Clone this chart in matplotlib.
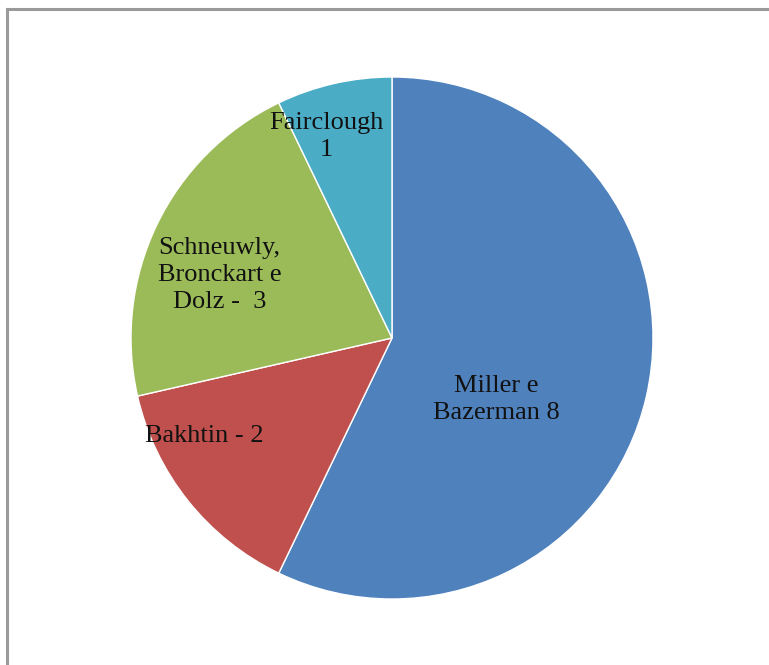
import matplotlib
matplotlib.use('Agg')
import matplotlib.pyplot as plt
from matplotlib.lines import Line2D

# slices, clockwise from 12 o'clock
authors = ['Miller e\nBazerman 8', 'Bakhtin - 2', 'Schneuwly,\nBronckart e\nDolz -  3', 'Fairclough\n1']
counts = [8, 2, 3, 1]
colors = ['#4F81BD', '#C0504D', '#9BBB59', '#4BACC6']
label_xy = [(0.40, -0.235), (-0.72, -0.375), (-0.66, 0.24), (-0.25, 0.772)]

W, H = 769, 665
fig = plt.figure(figsize=(W / 100, H / 100), dpi=100)
fig.patch.set_facecolor('white')

# chart frame: only the top and left edges are visible
fx, fy = 6.5 / W, 1 - 8.5 / H
fig.lines.append(Line2D([fx, 1], [fy, fy], transform=fig.transFigure, color='#9a9a9a', linewidth=2.2))
fig.lines.append(Line2D([fx, fx], [0, fy], transform=fig.transFigure, color='#9a9a9a', linewidth=2.2))

cx, cy, r = 392, 338, 261
ax = fig.add_axes([(cx - r) / W, (H - cy - r) / H, 2 * r / W, 2 * r / H])
wedges, _ = ax.pie(counts, colors=colors, startangle=90, counterclock=False,
                   wedgeprops=dict(edgecolor='white', linewidth=1))
for txt, (x, y) in zip(authors, label_xy):
    ax.text(x, y, txt, ha='center', va='center', fontsize=19, family='Liberation Serif',
            color='#111111', linespacing=1.3)
ax.set_xlim(-1, 1)
ax.set_ylim(-1, 1)
ax.set_aspect('auto')
ax.axis('off')

fig.savefig('out.png', dpi=100)
